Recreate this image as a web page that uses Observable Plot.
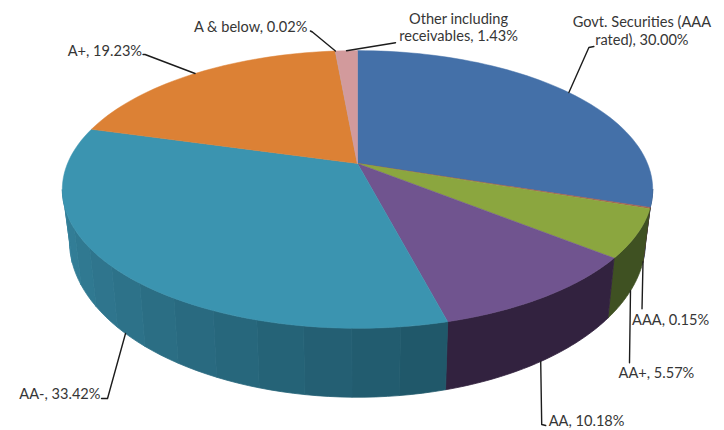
<!DOCTYPE html>
<html>
<head>
<meta charset="utf-8">
<script src="https://cdn.jsdelivr.net/npm/d3@7"></script>
<script src="https://cdn.jsdelivr.net/npm/@observablehq/plot@0.6"></script>
<style>
  html, body { margin: 0; padding: 0; background: #fff; }
  svg { display: block; }
</style>
</head>
<body>
<div id="chart"></div>
<script>
// Portfolio shares by credit rating
const ratings = ["Govt. Securities (AAA rated)", "AAA", "AA+", "AA", "AA-", "A+", "A & below", "Other including receivables"];
const shares = [30.00, 0.15, 5.57, 10.18, 33.42, 19.23, 0.02, 1.43];
const labelLines = [
  "Govt. Securities (AAA\nrated), 30.00%", "AAA, 0.15%", "AA+, 5.57%", "AA, 10.18%",
  "AA-, 33.42%", "A+, 19.23%", "A & below, 0.02%", "Other including\nreceivables, 1.43%"
];

// Fill of each slice's top face, and its wall shade at the two ends of the arc
const topColors = ["#4470a8", "#a8604f", "#8ba63f", "#70548f", "#3b94b0", "#dc8135", "#b9a0a8", "#d29a9c"];
const wallColors = [
  ["#2c4a70", "#2c4a70"], ["#5a3330", "#5a3330"], ["#3f5122", "#3f5122"], ["#32223f", "#32223f"],
  ["#1f5668", "#35829c"], ["#8a5020", "#8a5020"], ["#6a5a60", "#6a5a60"], ["#7a5a5c", "#7a5a5c"]
];

// Leader routing: pixel offsets from the slice's rim point, then label placement
const leaderLayout = [
  {path: [[20, -45], [25, -46]], label: [73, -62], anchor: "middle"},
  {wall: true, path: [[-1, 47]], label: [-11, 58], anchor: "start"},
  {wall: true, path: [[-1, 72]], label: [-12, 82], anchor: "start"},
  {wall: true, path: [[1, 63], [5, 64]], label: [8, 59], anchor: "start"},
  {wall: true, path: [[-18, 65], [-24, 65]], label: [-25, 60], anchor: "end"},
  {path: [[-50, -19], [-52, -19]], label: [-53, -23], anchor: "end"},
  {path: [[-23, -19], [-25, -20]], label: [-28, -25], anchor: "end"},
  {path: [[49, -8]], label: [112, -24], anchor: "middle"}
];

// Perspective of the disc: the top face is a projected circle, its lower edge a flatter, lower copy
const tilt = 0.187;
const wallShrinkX = 0.976, wallStretchY = 1.127, wallDrop = 0.358;
const pxX = 290, pxY = 134, originX = 357, originY = 163;

const turn = d3.scaleLinear([0, 100], [0, 2 * Math.PI]);
function rimTop(pct) {
  const t = turn(pct), u = Math.sin(t), v = -Math.cos(t), w = 1 - tilt * v;
  return [u / w, v / w];
}
function rimBottom(pct) {
  const [x, y] = rimTop(pct);
  return [x * wallShrinkX, y * wallStretchY + wallDrop];
}

const ends = d3.cumsum(shares);
const starts = ends.map((e, i) => e - shares[i]);
const arcSteps = (a, b, n) => d3.range(n + 1).map(i => a + (b - a) * i / n);
const asPoint = ([x, y]) => ({x, y});

// Only the front of the disc shows a wall; shaded walls are built from narrow bands
const wallFrom = 28, wallTo = 72;
const wallMarks = [];
shares.forEach((s, i) => {
  const a = Math.max(starts[i], wallFrom), b = Math.min(ends[i], wallTo);
  if (b <= a) return;
  const flat = wallColors[i][0] === wallColors[i][1];
  const n = flat ? 1 : Math.max(1, Math.round((b - a) / 2.2));
  const shade = d3.interpolateRgb(...wallColors[i]);
  for (let k = 0; k < n; k++) {
    const p0 = a + (b - a) * k / n, p1 = a + (b - a) * (k + 1) / n;
    const outline = [
      ...arcSteps(p0, p1, flat ? 40 : 4).map(rimTop),
      ...arcSteps(p1, p0, flat ? 40 : 4).map(rimBottom)
    ];
    const strip = [...outline, outline[0]].map(asPoint);
    const c = shade((k + 0.5) / n);
    wallMarks.push(Plot.line(strip, {x: "x", y: "y", fill: c, stroke: c, strokeWidth: 0.8}));
  }
});

// Top faces, one closed polygon per slice
const faceMarks = shares.map((s, i) => {
  const pts = [[0, 0], ...arcSteps(starts[i], ends[i], Math.max(2, Math.ceil(s * 2))).map(rimTop), [0, 0]].map(asPoint);
  return Plot.line(pts, {x: "x", y: "y", fill: topColors[i], stroke: topColors[i], strokeWidth: 0.5});
});

// Leaders and labels start from the middle of each slice's rim
const leaderMarks = [], labelRows = [];
shares.forEach((s, i) => {
  const L = leaderLayout[i];
  const mid = starts[i] + s / 2;
  const [x0, y0] = (L.wall ? rimBottom : rimTop)(mid);
  const pts = [[x0, y0], ...L.path.map(([dx, dy]) => [x0 + dx / pxX, y0 + dy / pxY])].map(asPoint);
  leaderMarks.push(Plot.line(pts, {x: "x", y: "y", stroke: "#1c1c1c", strokeWidth: 1.4}));
  labelRows.push({
    name: labelLines[i], anchor: L.anchor,
    x: x0 + L.label[0] / pxX, y: y0 + L.label[1] / pxY
  });
});

const textMarks = ["start", "middle", "end"].map(anchor =>
  Plot.text(labelRows.filter(d => d.anchor === anchor), {
    x: "x", y: "y", text: "name", textAnchor: anchor, lineHeight: 1.2,
    fontSize: 14.6, fill: "#363636", fontFamily: "Lato, 'Noto Sans', sans-serif"
  })
);

const chart = Plot.plot({
  width: 724, height: 430,
  margin: 0,
  style: {background: "#fff"},
  x: {domain: [-originX / pxX, (724 - originX) / pxX], range: [0, 724], axis: null},
  y: {domain: [-originY / pxY, (430 - originY) / pxY], range: [0, 430], axis: null},
  marks: [...wallMarks, ...faceMarks, ...leaderMarks, ...textMarks]
});
document.getElementById("chart").append(chart);
</script>
</body>
</html>
